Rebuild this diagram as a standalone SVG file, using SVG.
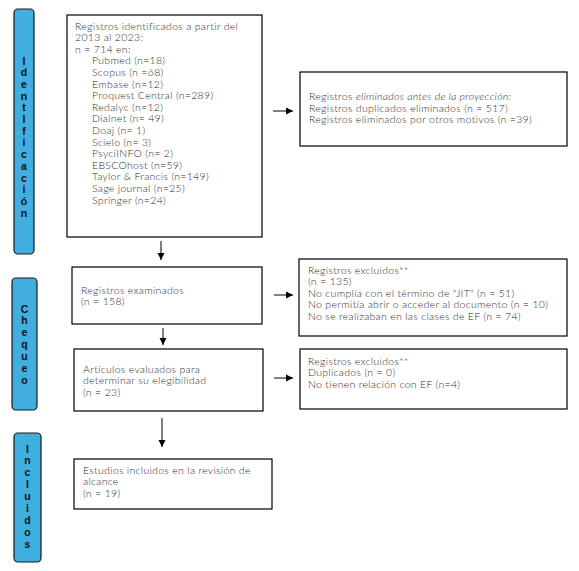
<svg xmlns="http://www.w3.org/2000/svg" width="579" height="571" viewBox="0 0 579 571">
<defs>
<marker id="ah" markerWidth="8" markerHeight="8" refX="7" refY="4" orient="auto" markerUnits="userSpaceOnUse">
<path d="M0,0.5 L7,4 L0,7.5 Z" fill="#000"/>
</marker>
<style>
.box{fill:#fff;stroke:#000;stroke-width:1.2}
.bar{fill:#41AEE0;stroke:#1a1a1a;stroke-width:1.2}
.t{font-family:"Lato","Liberation Sans",sans-serif;font-weight:300;font-size:10.5px;letter-spacing:0.3px;fill:#2e2e2e}
.v{font-family:"Liberation Sans","DejaVu Sans",sans-serif;font-weight:bold;font-size:10.5px;fill:#111;text-anchor:middle}
.c{stroke:#000;stroke-width:1;fill:none;marker-end:url(#ah)}
</style>
</defs>
<rect width="579" height="571" fill="#fff"/>

<g id="bar-identificacion">
<rect class="bar" x="14" y="9" width="20" height="245" rx="4"/>
<text class="v" x="24" y="64.5">I</text>
<text class="v" x="24" y="76.2">d</text>
<text class="v" x="24" y="87.9">e</text>
<text class="v" x="24" y="99.6">n</text>
<text class="v" x="24" y="111.3">t</text>
<text class="v" x="24" y="123">I</text>
<text class="v" x="24" y="134.7">f</text>
<text class="v" x="24" y="146.4">i</text>
<text class="v" x="24" y="158.1">c</text>
<text class="v" x="24" y="169.8">a</text>
<text class="v" x="24" y="181.5">c</text>
<text class="v" x="24" y="193.2">i</text>
<text class="v" x="24" y="204.9">ó</text>
<text class="v" x="24" y="216.6">n</text>
</g>

<g id="bar-chequeo">
<rect class="bar" x="12" y="278" width="25" height="132" rx="4"/>
<text class="v" x="24.5" y="312.5">C</text>
<text class="v" x="24.5" y="324.3">h</text>
<text class="v" x="24.5" y="336.2">e</text>
<text class="v" x="24.5" y="348">q</text>
<text class="v" x="24.5" y="359.8">u</text>
<text class="v" x="24.5" y="371.7">e</text>
<text class="v" x="24.5" y="383.5">o</text>
</g>

<g id="bar-incluidos">
<rect class="bar" x="14" y="433" width="27" height="129" rx="4"/>
<text class="v" x="27.5" y="452.5">I</text>
<text class="v" x="27.5" y="464.4">n</text>
<text class="v" x="27.5" y="476.2">c</text>
<text class="v" x="27.5" y="488.1">l</text>
<text class="v" x="27.5" y="500">u</text>
<text class="v" x="27.5" y="511.9">i</text>
<text class="v" x="27.5" y="523.8">d</text>
<text class="v" x="27.5" y="535.6">o</text>
<text class="v" x="27.5" y="547.5">s</text>
</g>

<g id="node-identificados">
<rect class="box" x="67" y="15" width="195" height="222"/>
<text class="t" x="75" y="29.5">Registros identificados a partir del</text>
<text class="t" x="75" y="41.1">2013 al 2023:</text>
<text class="t" x="75" y="52.7">n = 714 en:</text>
<text class="t" x="92" y="64.3">Pubmed (n=18)</text>
<text class="t" x="92" y="75.9">Scopus (n =68)</text>
<text class="t" x="92" y="87.5">Embase (n=12)</text>
<text class="t" x="92" y="99.1">Proquest Central (n=289)</text>
<text class="t" x="92" y="110.7">Redalyc (n=12)</text>
<text class="t" x="92" y="122.3">Dialnet (n= 49)</text>
<text class="t" x="92" y="133.9">Doaj (n= 1)</text>
<text class="t" x="92" y="145.5">Scielo (n= 3)</text>
<text class="t" x="92" y="157.1">PsyciINFO (n= 2)</text>
<text class="t" x="92" y="168.7">EBSCOhost (n=59)</text>
<text class="t" x="92" y="180.3">Taylor &amp; Francis (n=149)</text>
<text class="t" x="92" y="191.9">Sage journal (n=25)</text>
<text class="t" x="92" y="203.5">Springer (n=24)</text>
</g>

<g id="node-eliminados">
<rect class="box" x="300" y="72" width="267" height="74"/>
<text class="t" x="309" y="100.2">Registros <tspan font-style="italic">eliminados antes de la proyección:</tspan></text>
<text class="t" x="309" y="111.5">Registros duplicados eliminados (n = 517)</text>
<text class="t" x="309" y="123">Registros eliminados por otros motivos (n =39)</text>
</g>

<g id="node-examinados">
<rect class="box" x="72" y="267" width="190" height="57"/>
<text class="t" x="81" y="294.2">Registros examinados</text>
<text class="t" x="81" y="305.4">(n = 158)</text>
</g>

<g id="node-excluidos1">
<rect class="box" x="299" y="259" width="268" height="77"/>
<text class="t" x="308" y="273.5">Registros excluidos**</text>
<text class="t" x="308" y="285">(n = 135)</text>
<text class="t" x="308" y="296.5">No cumplía con el término de "JIT" (n = 51)</text>
<text class="t" x="308" y="308">No permitía abrir o acceder al documento (n = 10)</text>
<text class="t" x="308" y="319.5">No se realizaban en las clases de EF (n = 74)</text>
</g>

<g id="node-articulos">
<rect class="box" x="74" y="349" width="189" height="62"/>
<text class="t" x="83" y="372.5">Artículos evaluados para</text>
<text class="t" x="83" y="383.8">determinar su elegibilidad</text>
<text class="t" x="83" y="395.5">(n = 23)</text>
</g>

<g id="node-excluidos2">
<rect class="box" x="300" y="349" width="267" height="60"/>
<text class="t" x="308" y="364.5">Registros excluidos**</text>
<text class="t" x="308" y="376">Duplicados (n = 0)</text>
<text class="t" x="308" y="387.5">No tienen relación con EF (n=4)</text>
</g>

<g id="node-incluidos">
<rect class="box" x="74" y="459" width="198" height="50"/>
<text class="t" x="83" y="473.5">Estudios incluidos en la revisión de</text>
<text class="t" x="83" y="485">alcance</text>
<text class="t" x="83" y="496.5">(n = 19)</text>
</g>

<g id="connectors">
<line class="c" x1="273" y1="111" x2="293" y2="111"/>
<line class="c" x1="161" y1="241" x2="161" y2="260"/>
<line class="c" x1="274" y1="295" x2="293" y2="295"/>
<line class="c" x1="163" y1="328" x2="163" y2="345"/>
<line class="c" x1="274" y1="378" x2="293" y2="378"/>
<line class="c" x1="162" y1="418" x2="162" y2="447"/>
</g>
</svg>
